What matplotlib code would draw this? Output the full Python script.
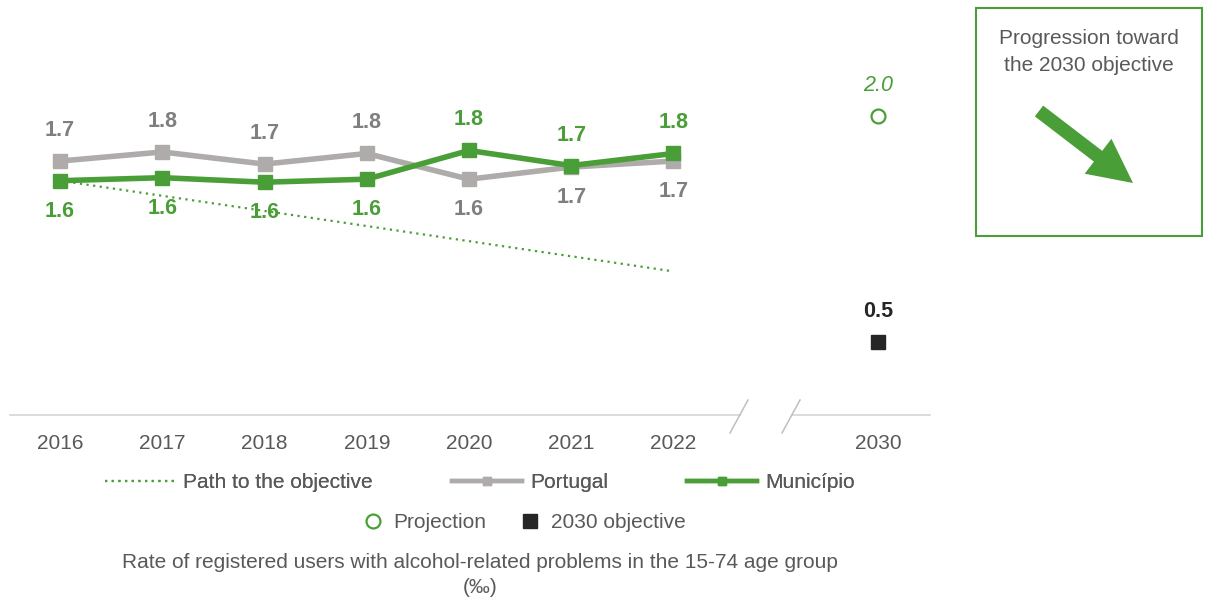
import matplotlib
matplotlib.use("Agg")
import matplotlib.pyplot as plt
from matplotlib.lines import Line2D
from matplotlib.patches import Rectangle

plt.rcParams['font.family'] = ['Liberation Sans', 'DejaVu Sans']

# ---- data ----
years = ['2016', '2017', '2018', '2019', '2020', '2021', '2022']
target_year = '2030'
portugal = [1.70, 1.76, 1.68, 1.75, 1.58, 1.66, 1.70]
municipio = [1.57, 1.59, 1.56, 1.58, 1.77, 1.67, 1.75]
path_years = ['2016', '2022']
path_values = [1.57, 0.97]
projection_2030 = 2.0
objective_2030 = 0.5

# label placement (style)
portugal_label_pos = ['above', 'above', 'above', 'above', 'below', 'below', 'below']
municipio_label_pos = ['below', 'below', 'below', 'below', 'above', 'above', 'above']

GREEN = '#4a9e37'
GREY_LINE = '#afabab'
GREY_LABEL = '#7f7f7f'
TEXT = '#595959'
DARK = '#262626'

W, H = 1206, 600
fig = plt.figure(figsize=(W / 100, H / 100), dpi=100)

# main axes
ax = fig.add_axes([10 / W, (600 - 415) / H, 920 / W, 390 / H])
ax.set_xlim(-0.49, 8.51)
ax.set_ylim(0.02, 2.60)
for s in ax.spines.values():
    s.set_visible(False)
ax.set_yticks([])

xpos = {y: i for i, y in enumerate(years)}
xpos[target_year] = 8
xs = [xpos[y] for y in years]

ax.plot([xpos[y] for y in path_years], path_values, color=GREEN, lw=1.6,
        linestyle=(0, (1, 2.0)), zorder=2)
ax.plot(xs, portugal, color=GREY_LINE, lw=4, marker='s', ms=10, zorder=3)
ax.plot(xs, municipio, color=GREEN, lw=4, marker='s', ms=10, zorder=4)

ax.plot([xpos[target_year]], [projection_2030], marker='o', ms=10, mfc='white',
        mec=GREEN, mew=1.6, linestyle='none', zorder=5)
ax.plot([xpos[target_year]], [objective_2030], marker='s', ms=10, color=DARK,
        linestyle='none', zorder=5)

off = 22
for x, v, p in zip(xs, portugal, portugal_label_pos):
    ax.annotate(f'{v:.1f}', (x, v), xytext=(0, off if p == 'above' else -off),
                textcoords='offset points', ha='center', va='center',
                fontsize=15.5, fontweight='bold', color=GREY_LABEL)
for x, v, p in zip(xs, municipio, municipio_label_pos):
    ax.annotate(f'{v:.1f}', (x, v), xytext=(0, off if p == 'above' else -off),
                textcoords='offset points', ha='center', va='center',
                fontsize=15.5, fontweight='bold', color=GREEN)
ax.annotate(f'{projection_2030:.1f}', (xpos[target_year], projection_2030),
            xytext=(0, off), textcoords='offset points', ha='center', va='center',
            fontsize=15.5, fontstyle='italic', color=GREEN)
ax.annotate(f'{objective_2030:.1f}', (xpos[target_year], objective_2030),
            xytext=(0, off), textcoords='offset points', ha='center', va='center',
            fontsize=15.5, fontweight='bold', color=DARK)

ax.set_xticks(xs + [xpos[target_year]])
ax.set_xticklabels(years + [target_year], fontsize=15, color=TEXT)
ax.tick_params(axis='x', length=0, pad=14)

# broken baseline
base_kw = dict(transform=ax.transAxes, color='#d9d9d9', lw=1.3, clip_on=False)
ax.plot([0, (740 - 10) / 920], [0, 0], **base_kw)
ax.plot([(792 - 10) / 920, 1], [0, 0], **base_kw)
sl_kw = dict(transform=ax.transAxes, color='#bfbfbf', lw=1.1, clip_on=False)
ax.plot([(748 - 10) / 920, (730 - 10) / 920], [15 / 390, -18 / 390], **sl_kw)
ax.plot([(800 - 10) / 920, (782 - 10) / 920], [15 / 390, -18 / 390], **sl_kw)

# overlay axes in pixel coordinates for the side box
ov = fig.add_axes([0, 0, 1, 1], zorder=-1)
ov.set_xlim(0, W)
ov.set_ylim(H, 0)
ov.axis('off')
ov.add_patch(Rectangle((976, 8), 226, 228, fill=False, edgecolor=GREEN, lw=1.5))
ov.text(1089, 52, 'Progression toward\nthe 2030 objective', ha='center', va='center',
        fontsize=15, color=TEXT, linespacing=1.5)
ov.arrow(1039, 111, 94, 72, width=13.6, head_width=44, head_length=44,
         length_includes_head=True, color=GREEN, lw=0)

# legends
h1 = [Line2D([], [], color=GREEN, lw=1.6, linestyle=(0, (1, 2.0))),
      Line2D([], [], color=GREY_LINE, lw=3.2, marker='s', ms=6),
      Line2D([], [], color=GREEN, lw=3.2, marker='s', ms=6)]
leg1 = fig.legend(h1, ['Path to the objective', 'Portugal', 'Município'],
                  loc='center', bbox_to_anchor=(480 / W, (600 - 483) / H), ncol=3,
                  frameon=False, fontsize=15, handlelength=3.35, handletextpad=0.4,
                  columnspacing=3.8, labelcolor=TEXT)
h2 = [Line2D([], [], marker='o', ms=10, mfc='white', mec=GREEN, mew=1.6, linestyle='none'),
      Line2D([], [], marker='s', ms=10, color=DARK, linestyle='none')]
leg2 = fig.legend(h2, ['Projection', '2030 objective'], loc='center',
                  bbox_to_anchor=(524 / W, (600 - 523) / H), ncol=2, frameon=False,
                  fontsize=15, handlelength=1.0, handletextpad=0.5, columnspacing=1.6,
                  labelcolor=TEXT)
fig.add_artist(leg1)

fig.text(480 / W, (600 - 575) / H,
         'Rate of registered users with alcohol-related problems in the 15-74 age group\n(‰)',
         ha='center', va='center', fontsize=15, color=TEXT, linespacing=1.45)

fig.savefig('out.png', dpi=100)
